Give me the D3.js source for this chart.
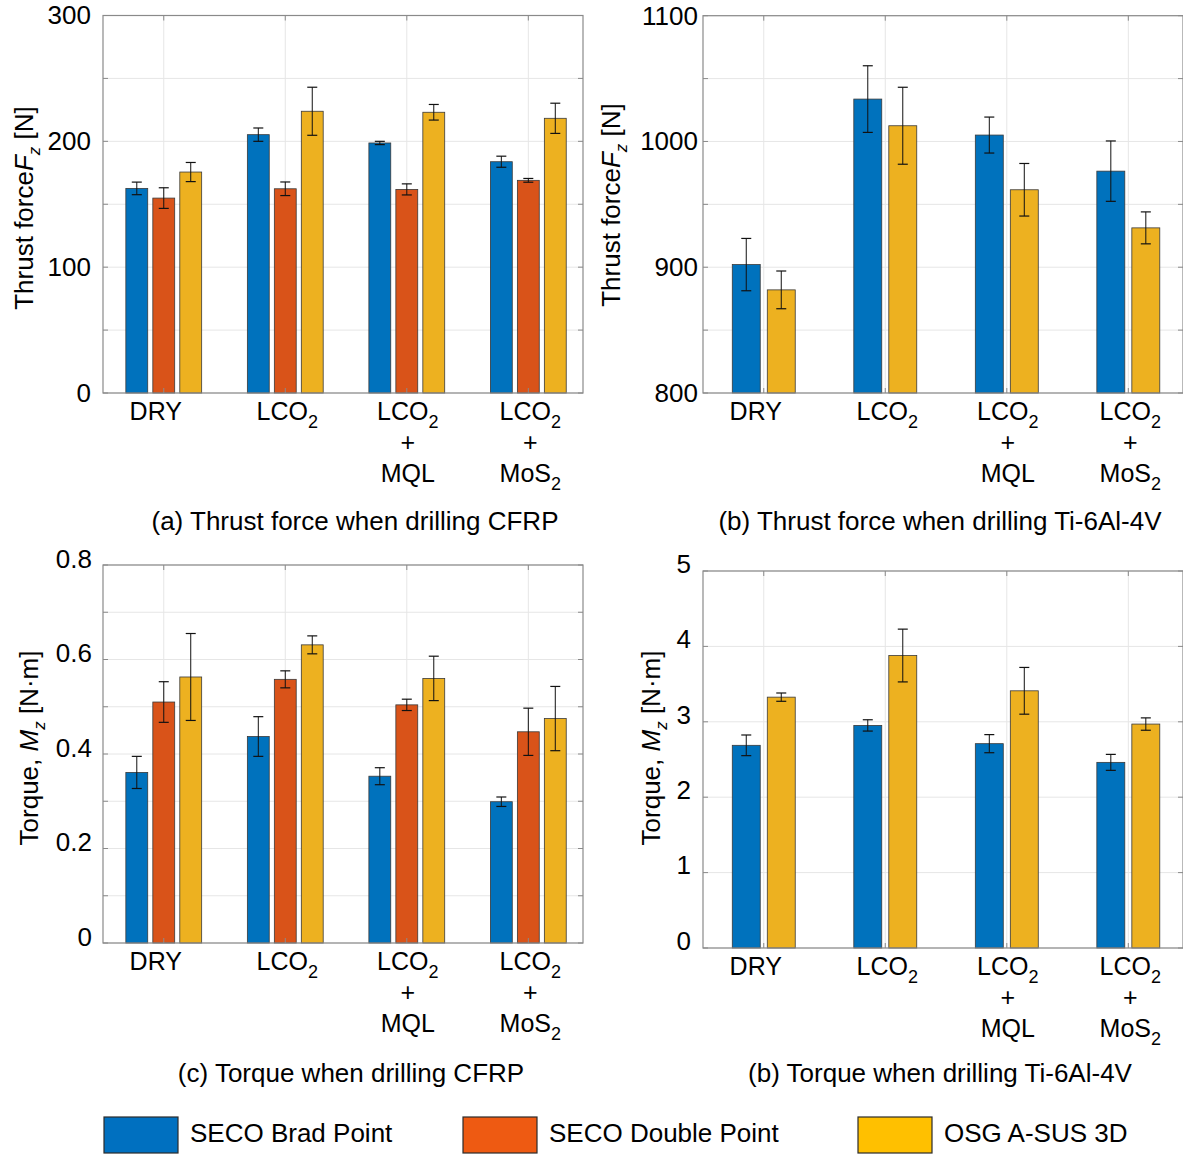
<!DOCTYPE html>
<html>
<head>
<meta charset="utf-8">
<script src="https://cdn.jsdelivr.net/npm/d3@7"></script>
<style>
  body { margin: 0; background: #fff; }
  svg { display: block; font-family: "Liberation Sans", Arial, sans-serif; }
</style>
</head>
<body>
<div id="content"></div>
<script>
// categories ("_" marks a one-character subscript, "\n" a new line)
var categories = ["DRY", "LCO_2", "LCO_2\n+\nMQL", "LCO_2\n+\nMoS_2"]
var seriesNames = ["SECO Brad Point", "SECO Double Point", "OSG A-SUS 3D"]

// (a) thrust force, CFRP [N]
var cfrpThrustBrad = [162.6, 205.3, 198.7, 183.8]
var cfrpThrustBradErr = [5.0, 5.3, 1.3, 4.4]
var cfrpThrustDouble = [154.9, 162.3, 161.8, 169.0]
var cfrpThrustDoubleErr = [8.2, 5.4, 4.4, 1.5]
var cfrpThrustOsg = [175.6, 223.9, 223.1, 218.3]
var cfrpThrustOsgErr = [7.6, 19.1, 6.2, 12.0]

// (b) thrust force, Ti-6Al-4V [N]
var tiThrustBrad = [902.1, 1033.7, 1005.1, 976.4]
var tiThrustBradErr = [20.8, 26.5, 14.3, 24.0]
var tiThrustOsg = [882.0, 1012.5, 961.6, 931.3]
var tiThrustOsgErr = [15.0, 30.6, 20.9, 12.7]

// (c) torque, CFRP [N.m]
var cfrpTorqueBrad = [0.361, 0.437, 0.353, 0.299]
var cfrpTorqueBradErr = [0.034, 0.042, 0.018, 0.010]
var cfrpTorqueDouble = [0.510, 0.558, 0.504, 0.447]
var cfrpTorqueDoubleErr = [0.043, 0.018, 0.012, 0.050]
var cfrpTorqueOsg = [0.563, 0.631, 0.560, 0.475]
var cfrpTorqueOsgErr = [0.092, 0.019, 0.047, 0.068]

// (d) torque, Ti-6Al-4V [N.m]
var tiTorqueBrad = [2.688, 2.952, 2.710, 2.462]
var tiTorqueBradErr = [0.137, 0.075, 0.120, 0.106]
var tiTorqueOsg = [3.327, 3.879, 3.411, 2.970]
var tiTorqueOsgErr = [0.055, 0.350, 0.310, 0.082]

// axis ticks
var thrustCfrpTicks = [0, 100, 200, 300]
var thrustTiTicks = [800, 900, 1000, 1100]
var torqueCfrpTicks = [0, 0.2, 0.4, 0.6, 0.8]
var torqueTiTicks = [0, 1, 2, 3, 4, 5]

var barColors = ["#0072BD", "#D95319", "#EDB120"]
var legendColors = ["#0070C0", "#EE5A12", "#FFC000"]
// small horizontal nudge of each category label (px)
var labelNudge = [-8, 2, 1, 2]

var svgwidth = 1183, svgheight = 1154
var svg = d3.select("#content").append("svg")
  .attr("width", svgwidth)
  .attr("height", svgheight)

// write a string with "_x" subscripts into a text element
function richText(sel, str, size, subSize) {
  var parts = str.split(/(_.)/)
  var down = false
  parts.forEach(function(p) {
    if (p == "") return
    if (p[0] == "_") {
      sel.append("tspan").attr("dy", down ? 0 : size * 0.3).style("font-size", subSize + "px").text(p[1])
      down = true
    } else {
      sel.append("tspan").attr("dy", down ? -size * 0.3 : 0).text(p)
      down = false
    }
  })
}

function buildPanel(p) {
  var x = d3.scaleLinear().domain([0.5, 4.45]).range([p.left, p.right])
  var y = d3.scaleLinear().domain(p.domain).range([p.bottom, p.top])
  var g = svg.append("g")

  // grid
  var gridVals = d3.range(p.domain[0], p.domain[1] + p.gridStep / 2, p.gridStep)
  g.selectAll(".hgrid").data(gridVals).enter().append("line")
    .attr("x1", p.left).attr("x2", p.right)
    .attr("y1", function(d) { return y(d) }).attr("y2", function(d) { return y(d) })
    .style("stroke", "#e6e6e6").style("stroke-width", 1)
  g.selectAll(".vgrid").data(categories).enter().append("line")
    .attr("x1", function(d, i) { return x(i + 1) }).attr("x2", function(d, i) { return x(i + 1) })
    .attr("y1", p.top).attr("y2", p.bottom)
    .style("stroke", "#e6e6e6").style("stroke-width", 1)

  // bars and error bars
  var n = p.series.length
  var bw = n == 3 ? 0.18 : 0.23
  var step = n == 3 ? 0.222 : 0.288
  p.series.forEach(function(s, si) {
    var off = (si - (n - 1) / 2) * step
    g.selectAll(".bar" + si).data(s.values).enter().append("rect")
      .attr("x", function(d, i) { return x(i + 1 + off - bw / 2) })
      .attr("y", function(d) { return y(d) })
      .attr("width", x(bw) - x(0))
      .attr("height", function(d) { return p.bottom - y(d) })
      .attr("fill", s.color)
      .style("stroke", "#3a3a3a").style("stroke-width", 0.8)
    s.values.forEach(function(v, i) {
      var cx = x(i + 1 + off), e = s.errors[i]
      g.append("line").attr("x1", cx).attr("x2", cx).attr("y1", y(v - e)).attr("y2", y(v + e))
        .style("stroke", "#111").style("stroke-width", 1)
      ;[v - e, v + e].forEach(function(t) {
        g.append("line").attr("x1", cx - 5).attr("x2", cx + 5).attr("y1", y(t)).attr("y2", y(t))
          .style("stroke", "#111").style("stroke-width", 1.2)
      })
    })
  })

  // frame and inner ticks
  g.append("rect").attr("x", p.left).attr("y", p.top)
    .attr("width", p.right - p.left).attr("height", p.bottom - p.top)
    .attr("fill", "none").style("stroke", "#8a8a8a").style("stroke-width", 1.2)
  gridVals.forEach(function(v) {
    g.append("line").attr("x1", p.left).attr("x2", p.left + 5).attr("y1", y(v)).attr("y2", y(v)).style("stroke", "#8a8a8a")
    g.append("line").attr("x1", p.right - 5).attr("x2", p.right).attr("y1", y(v)).attr("y2", y(v)).style("stroke", "#8a8a8a")
  })
  categories.forEach(function(c, i) {
    g.append("line").attr("x1", x(i + 1)).attr("x2", x(i + 1)).attr("y1", p.top).attr("y2", p.top + 5).style("stroke", "#8a8a8a")
    g.append("line").attr("x1", x(i + 1)).attr("x2", x(i + 1)).attr("y1", p.bottom - 5).attr("y2", p.bottom).style("stroke", "#8a8a8a")
  })

  // y tick labels
  var ax = g.append("g")
    .attr("transform", "translate(" + (p.left - p.labelPad) + "," + p.labelShift + ")")
    .call(d3.axisLeft(y).tickValues(p.ticks).tickSize(0).tickPadding(0).tickFormat(d3.format("")))
  ax.select(".domain").remove()
  ax.selectAll("text").style("font-size", "26px").style("font-family", "Liberation Sans, Arial, sans-serif").attr("fill", "#000")

  // x category labels
  categories.forEach(function(c, i) {
    c.split("\n").forEach(function(line, li) {
      var t = g.append("text")
        .attr("x", x(i + 1) + labelNudge[i])
        .attr("y", p.bottom + 27 + li * 31)
        .attr("text-anchor", "middle")
        .style("font-size", "25px")
      richText(t, line, 25, 18)
    })
  })

  // y title
  var yt = g.append("text")
    .attr("transform", "translate(" + p.titleX + "," + p.titleY + ") rotate(-90)")
    .attr("text-anchor", "middle")
    .style("font-size", "26px")
  yt.append("tspan").text(p.titleA)
  yt.append("tspan").style("font-style", "italic").text(p.titleSym)
  yt.append("tspan").attr("dy", 7).style("font-size", "17px").style("font-style", "italic").text("z")
  yt.append("tspan").attr("dy", -7).text(" " + p.titleUnit)

  // caption
  g.append("text")
    .attr("x", p.captionX).attr("y", p.captionY)
    .attr("text-anchor", "middle")
    .style("font-size", "26px")
    .text(p.caption)
}

var panels = [
  { left: 103, right: 583, top: 15.5, bottom: 393, domain: [0, 300], gridStep: 50, ticks: thrustCfrpTicks,
    labelPad: 12, labelShift: 0, titleX: 33, titleY: 208, titleA: "Thrust force", titleSym: "F", titleUnit: "[N]",
    caption: "(a) Thrust force when drilling CFRP", captionX: 355, captionY: 530,
    series: [
      { values: cfrpThrustBrad, errors: cfrpThrustBradErr, color: barColors[0] },
      { values: cfrpThrustDouble, errors: cfrpThrustDoubleErr, color: barColors[1] },
      { values: cfrpThrustOsg, errors: cfrpThrustOsgErr, color: barColors[2] }] },
  { left: 703, right: 1183, top: 15.7, bottom: 393, domain: [800, 1100], gridStep: 50, ticks: thrustTiTicks,
    labelPad: 5, labelShift: 0, titleX: 620, titleY: 205, titleA: "Thrust force", titleSym: "F", titleUnit: "[N]",
    caption: "(b) Thrust force when drilling Ti-6Al-4V", captionX: 940, captionY: 530,
    series: [
      { values: tiThrustBrad, errors: tiThrustBradErr, color: barColors[0] },
      { values: tiThrustOsg, errors: tiThrustOsgErr, color: barColors[2] }] },
  { left: 103, right: 583, top: 565, bottom: 943, domain: [0, 0.8], gridStep: 0.1, ticks: torqueCfrpTicks,
    labelPad: 11, labelShift: -6, titleX: 38, titleY: 748, titleA: "Torque, ", titleSym: "M", titleUnit: "[N\u00b7m]",
    caption: "(c) Torque when drilling CFRP", captionX: 351, captionY: 1082,
    series: [
      { values: cfrpTorqueBrad, errors: cfrpTorqueBradErr, color: barColors[0] },
      { values: cfrpTorqueDouble, errors: cfrpTorqueDoubleErr, color: barColors[1] },
      { values: cfrpTorqueOsg, errors: cfrpTorqueOsgErr, color: barColors[2] }] },
  { left: 703, right: 1183, top: 571, bottom: 948, domain: [0, 5], gridStep: 1, ticks: torqueTiTicks,
    labelPad: 12, labelShift: -7, titleX: 660, titleY: 748, titleA: "Torque, ", titleSym: "M", titleUnit: "[N\u00b7m]",
    caption: "(b) Torque when drilling Ti-6Al-4V", captionX: 940, captionY: 1082,
    series: [
      { values: tiTorqueBrad, errors: tiTorqueBradErr, color: barColors[0] },
      { values: tiTorqueOsg, errors: tiTorqueOsgErr, color: barColors[2] }] }
]

panels.forEach(buildPanel)

// legend
var legendX = [104, 463, 858]
seriesNames.forEach(function(name, i) {
  svg.append("rect")
    .attr("x", legendX[i]).attr("y", 1117)
    .attr("width", 74).attr("height", 36)
    .attr("fill", legendColors[i])
    .style("stroke", "#2b2b2b").style("stroke-width", 1.2)
  svg.append("text")
    .attr("x", legendX[i] + 86).attr("y", 1142)
    .style("font-size", "26px")
    .text(name)
})
</script>
</body>
</html>
